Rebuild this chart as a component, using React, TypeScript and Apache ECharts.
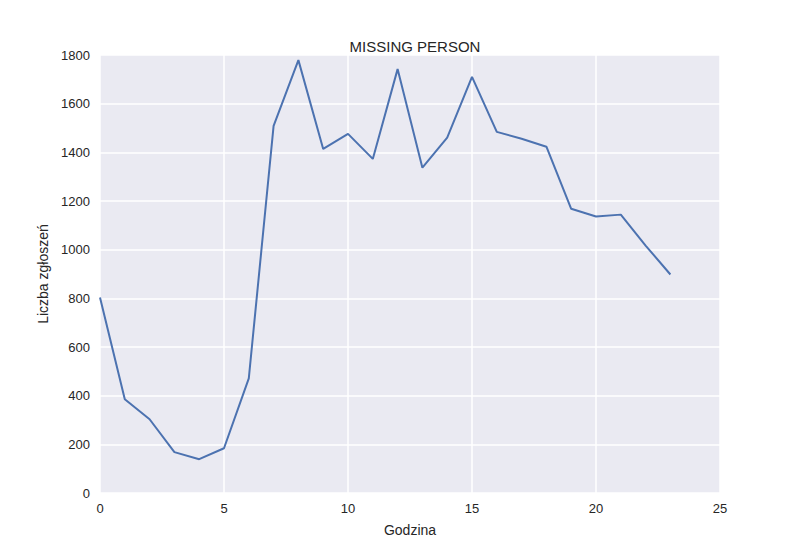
import { useEffect, useRef } from 'react';
import * as echarts from 'echarts';

const hours = [0, 1, 2, 3, 4, 5, 6, 7, 8, 9, 10, 11, 12, 13, 14, 15, 16, 17, 18, 19, 20, 21, 22, 23];
const reports = [803, 385, 303, 168, 139, 184, 471, 1509, 1779, 1414, 1476, 1373, 1742, 1337, 1460, 1710, 1484, 1456, 1423, 1168, 1136, 1144, 1017, 898];

const font = '"Liberation Sans", Arial, sans-serif';

export default function App() {
  const chartRef = useRef<HTMLDivElement>(null);

  useEffect(() => {
    if (!chartRef.current) return;
    const chart = echarts.init(chartRef.current, undefined, { renderer: 'svg' });
    chart.setOption({
      animation: false,
      backgroundColor: '#fff',
      textStyle: { fontFamily: font },
      title: {
        text: 'MISSING PERSON',
        left: 402,
        textAlign: 'center',
        top: 26,
        textStyle: { fontFamily: font, fontSize: 15, fontWeight: 'normal', color: '#262626' },
      },
      grid: {
        left: 92, right: 72, top: 47, bottom: 48,
        show: true, backgroundColor: '#EAEAF2', borderWidth: 0,
      },
      xAxis: {
        type: 'value', min: 0, max: 25, interval: 5,
        name: 'Godzina', nameLocation: 'middle', nameGap: 30,
        nameTextStyle: { fontFamily: font, fontSize: 14, color: '#262626' },
        axisLine: { show: false }, axisTick: { show: false },
        axisLabel: { fontFamily: font, fontSize: 13, color: '#262626', margin: 9 },
        splitLine: { lineStyle: { color: '#fff', width: 1.5 } },
      },
      yAxis: {
        type: 'value', min: 0, max: 1800, interval: 200,
        name: 'Liczba zgłoszeń', nameLocation: 'middle', nameGap: 50,
        nameTextStyle: { fontFamily: font, fontSize: 14, color: '#262626' },
        axisLine: { show: false }, axisTick: { show: false },
        axisLabel: { fontFamily: font, fontSize: 13, color: '#262626', margin: 10, formatter: (v: number) => String(v) },
        splitLine: { lineStyle: { color: '#fff', width: 1.5 } },
      },
      series: [{
        type: 'line',
        data: hours.map((h, i) => [h, reports[i]]),
        showSymbol: false,
        lineStyle: { color: '#4C72B0', width: 2 },
        itemStyle: { color: '#4C72B0' },
      }],
    });
    return () => chart.dispose();
  }, []);

  return <div ref={chartRef} style={{ width: 784, height: 534 }} />;
}
